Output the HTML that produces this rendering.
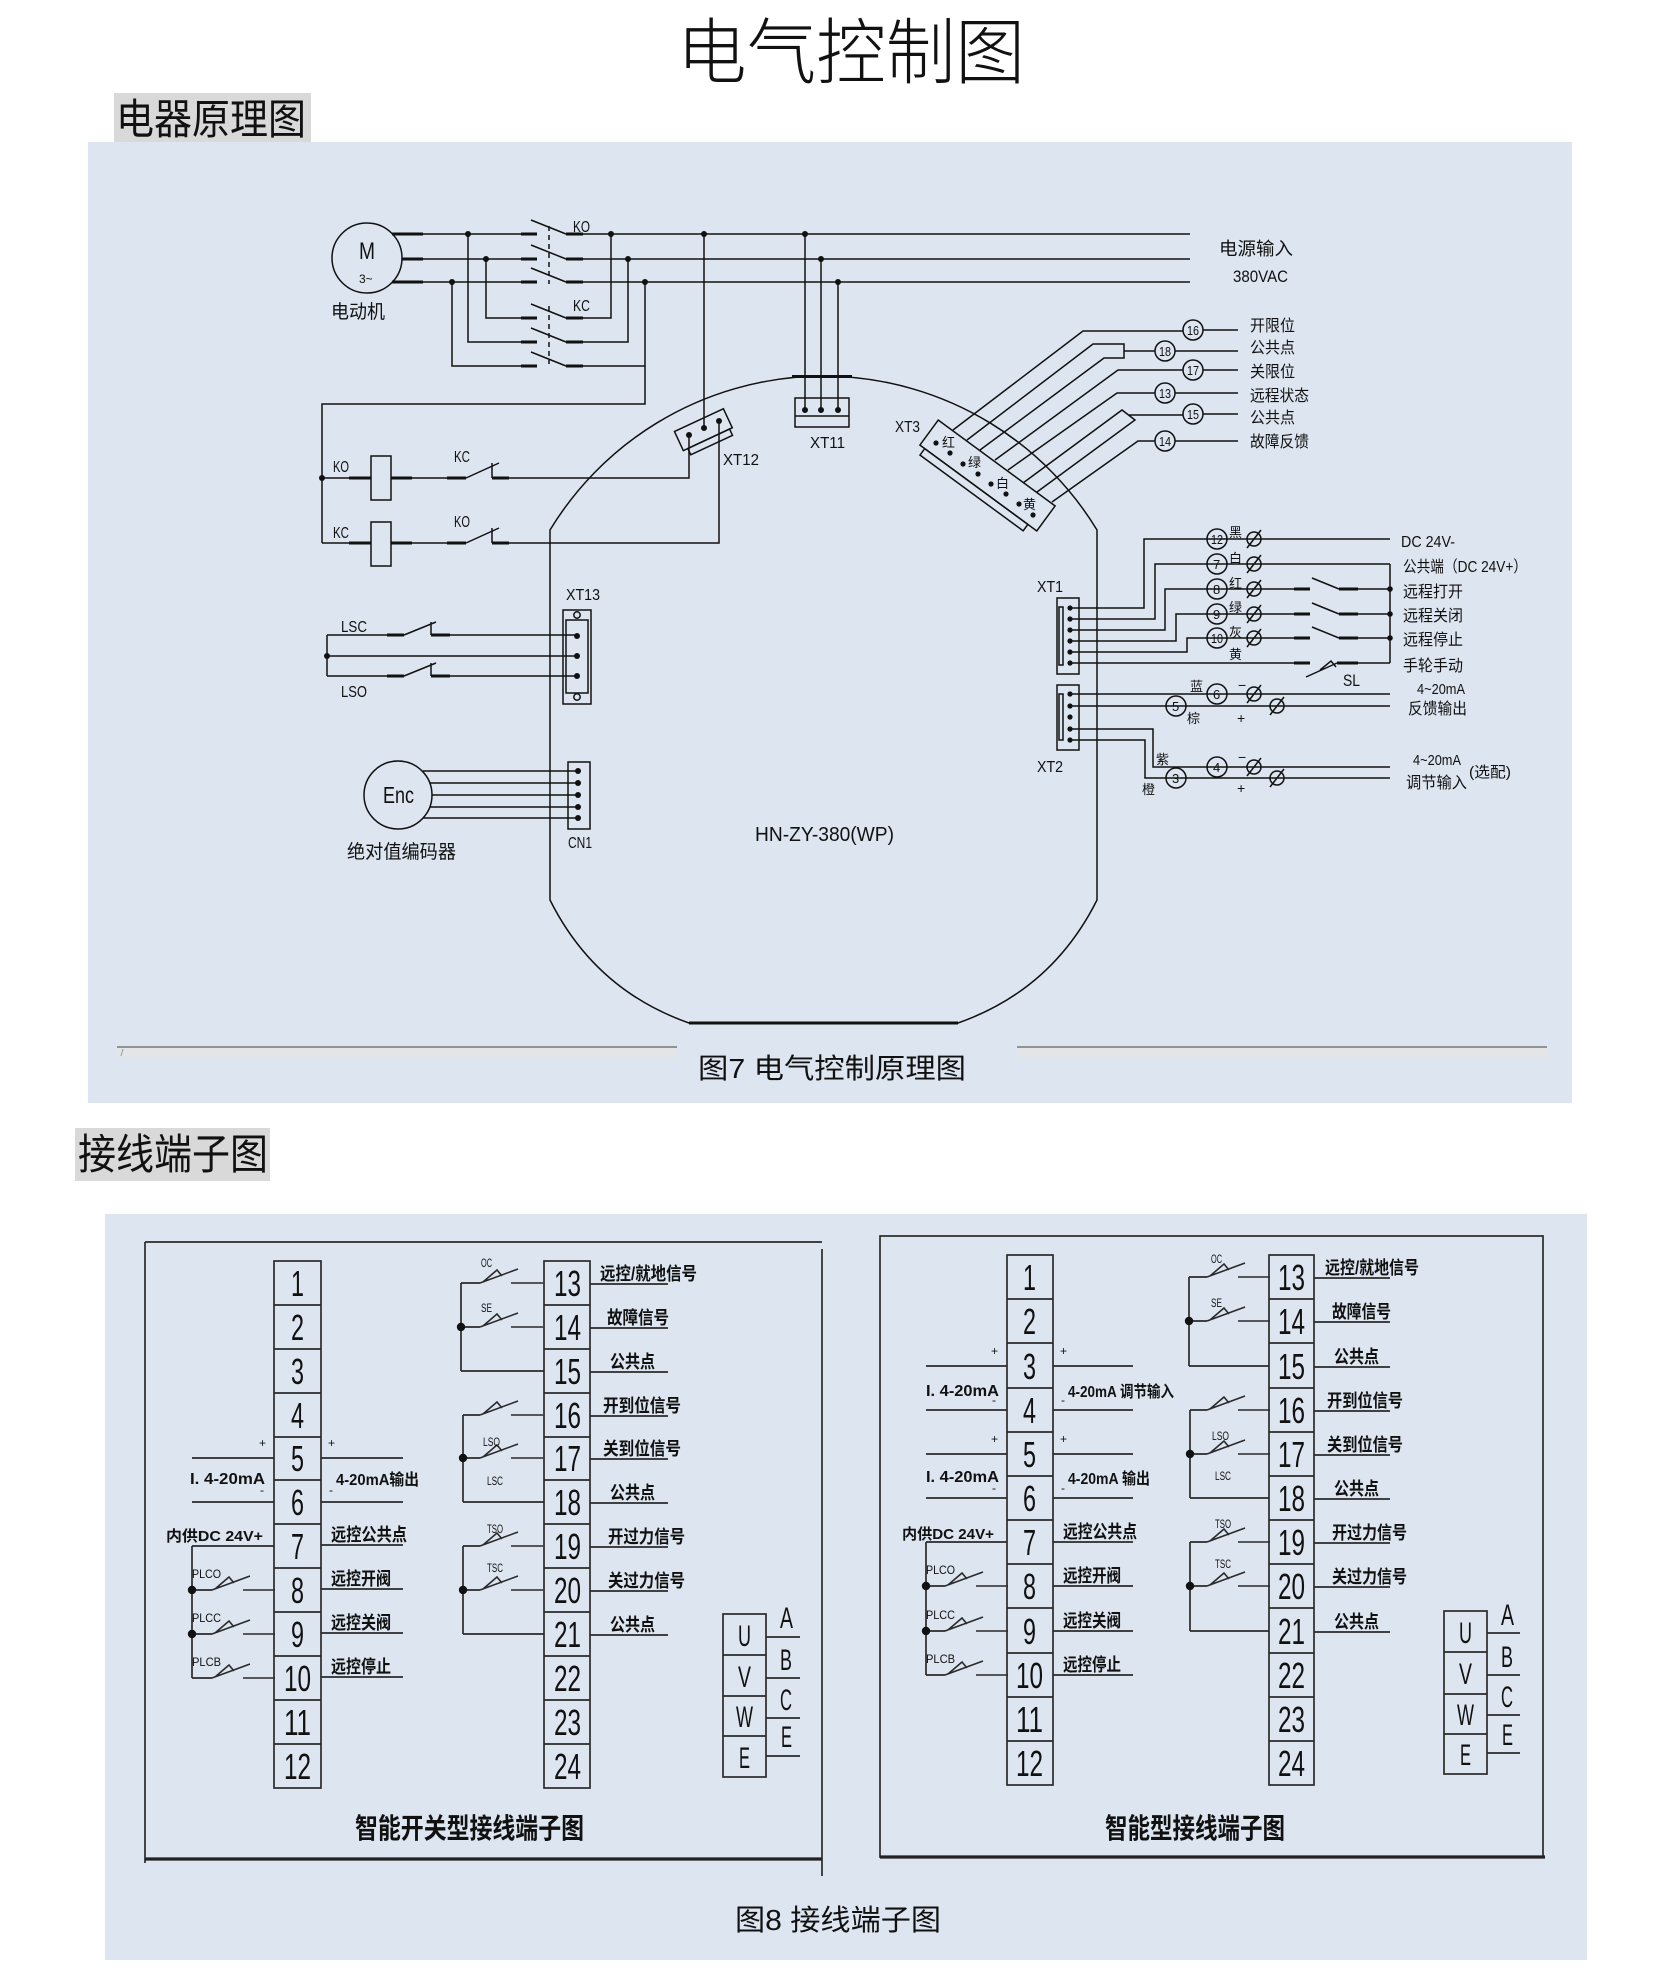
<!DOCTYPE html>
<html><head><meta charset="utf-8">
<style>
html,body{margin:0;padding:0;background:#fff;}
svg{display:block}
text{font-family:"Liberation Sans","Noto Sans CJK SC",sans-serif;fill:#111}
.s{stroke:#111;stroke-width:1.5;fill:none}
.k{stroke:#111;stroke-width:3;fill:none}
.t{stroke:#2a2a2a;stroke-width:1.7;fill:none}
.b{font-weight:bold}
</style></head><body>
<svg width="1654" height="1987" viewBox="0 0 1654 1987" xmlns="http://www.w3.org/2000/svg">
<defs>
<g id="sw"><path d="M0 0L38 -14M3 -1L17 -13L22 -7M31 0H63" stroke="#2a2a2a" stroke-width="1.6" fill="none"/></g>
</defs>
<rect width="1654" height="1987" fill="#fff"/>

<!-- Title -->
<text x="677" y="78" font-size="72" textLength="348" lengthAdjust="spacingAndGlyphs" style="font-weight:300">电气控制图</text>

<!-- Section 1 label -->
<rect x="114" y="93" width="197" height="53" fill="#d9d9d9"/>
<text x="116" y="134" font-size="42" textLength="190" lengthAdjust="spacingAndGlyphs">电器原理图</text>

<!-- Panel 1 -->
<rect x="88" y="142" width="1484" height="961" fill="#dce5f0"/>

<!-- ===== Motor & contactors ===== -->
<circle cx="367" cy="258" r="35" class="s" stroke-width="2"/>
<text x="359" y="259" font-size="24" textLength="16" lengthAdjust="spacingAndGlyphs">M</text>
<text x="359" y="283" font-size="12">3~</text>
<text x="331" y="318" font-size="19" textLength="54" lengthAdjust="spacingAndGlyphs">电动机</text>
<path class="k" d="M392 234H423M402 259H423M392 282H423"/>
<path class="s" d="M423 234H521M423 259H521M423 282H521"/>
<path class="k" d="M521 234H537M521 259H537M521 282H537M521 318H537M521 342H537M521 366H537"/>
<path class="k" d="M566 234H583M566 259H583M566 282H583M566 318H583M566 342H583M566 366H583"/>
<path class="s" d="M531 220L566 234M531 245L566 259M531 268L566 282M531 304L566 318M531 328L566 342M531 352L566 366"/>
<path class="s" stroke-dasharray="5,4" d="M549 226V284M549 306V364"/>
<text x="573" y="232" font-size="16" textLength="17" lengthAdjust="spacingAndGlyphs">KO</text>
<text x="573" y="311" font-size="16" textLength="17" lengthAdjust="spacingAndGlyphs">KC</text>
<path class="s" stroke-width="1.8" d="M583 234H1190M583 259H1190M583 282H1190"/>
<text x="1219" y="255" font-size="18" textLength="74" lengthAdjust="spacingAndGlyphs">电源输入</text>
<text x="1233" y="282" font-size="17" textLength="55" lengthAdjust="spacingAndGlyphs">380VAC</text>
<path class="s" d="M486 259V318H521M468 234V342H521M452 282V366H521M583 318H611V234M583 342H628V259M583 366H645M645 282V404H322V543"/>
<g fill="#111">
<circle cx="468" cy="234" r="3"/><circle cx="611" cy="234" r="3"/><circle cx="704" cy="234" r="3"/><circle cx="805" cy="234" r="3"/>
<circle cx="486" cy="259" r="3"/><circle cx="628" cy="259" r="3"/><circle cx="821" cy="259" r="3"/>
<circle cx="452" cy="282" r="3"/><circle cx="645" cy="282" r="3"/><circle cx="838" cy="282" r="3"/>
<circle cx="322" cy="478" r="3"/>
</g>
<path class="s" d="M322 478H349M412 478H447M322 543H349M412 543H447"/>
<path class="k" d="M349 478H371M391 478H412M447 478H466M492 478H509M349 543H371M391 543H412M447 543H466M492 543H509"/>
<rect x="371" y="456" width="20" height="44" class="s" stroke-width="2.2"/>
<rect x="371" y="522" width="20" height="44" class="s" stroke-width="2.2"/>
<path class="s" d="M466 478L499 463M492 463V478M466 543L499 528M492 528V543"/>
<path class="s" d="M509 478H689V435M509 543H719V421M704 234V428"/>
<text x="333" y="472" font-size="16" textLength="16" lengthAdjust="spacingAndGlyphs">KO</text>
<text x="454" y="462" font-size="16" textLength="16" lengthAdjust="spacingAndGlyphs">KC</text>
<text x="333" y="538" font-size="16" textLength="16" lengthAdjust="spacingAndGlyphs">KC</text>
<text x="454" y="527" font-size="16" textLength="16" lengthAdjust="spacingAndGlyphs">KO</text>
<g transform="rotate(-25 704 431)">
<rect x="677" y="419" width="54" height="21" class="s"/>
<rect x="682" y="440" width="46" height="7" class="s"/>
</g>
<g fill="#111"><circle cx="689" cy="435" r="3"/><circle cx="704" cy="428" r="3"/><circle cx="719" cy="421" r="3"/></g>
<text x="723" y="465" font-size="16" textLength="36" lengthAdjust="spacingAndGlyphs">XT12</text>
<rect x="795" y="398" width="54" height="29" class="s"/>
<path class="s" d="M795 416H849M805 234V410M821 259V410M838 282V410"/>
<g fill="#111"><circle cx="805" cy="410" r="3"/><circle cx="821" cy="410" r="3"/><circle cx="838" cy="410" r="3"/></g>
<text x="810" y="448" font-size="16" textLength="35" lengthAdjust="spacingAndGlyphs">XT11</text>

<!-- Enclosure -->
<path class="s" stroke-width="2" d="M550 530A320 320 0 0 1 1097 530V900Q1052 990 958 1023H689Q595 990 550 900Z"/>
<path class="k" d="M689 1023H958M792 376.5H852"/>

<!-- XT3 -->
<text x="895" y="432" font-size="16" textLength="25" lengthAdjust="spacingAndGlyphs">XT3</text>
<rect x="915" y="460" width="145" height="31" class="s" transform="rotate(36.3 987.5 475.5)"/>
<rect x="921" y="491" width="128" height="8" class="s" transform="rotate(36.3 987.5 475.5)"/>
<g fill="#111">
<circle cx="936" cy="443" r="2.6"/><circle cx="950" cy="453" r="2.6"/><circle cx="963" cy="464" r="2.6"/><circle cx="978" cy="474" r="2.6"/>
<circle cx="991" cy="484" r="2.6"/><circle cx="1006" cy="494" r="2.6"/><circle cx="1019" cy="504" r="2.6"/><circle cx="1033" cy="515" r="2.6"/>
</g>
<text x="942" y="447" font-size="13">红</text>
<text x="968" y="467" font-size="13">绿</text>
<text x="996" y="488" font-size="13">白</text>
<text x="1023" y="509" font-size="13">黄</text>
<path class="s" d="M953 430L1083 331H1183M967 440L1093 344H1124V358H1104L980 450M1124 351H1155M995 460L1118 370H1183M1008 470L1117 393H1155M1023 483L1122 410L1135 420L1037 492M1129 415H1183M1052 502L1138 441H1155"/>
<path class="s" d="M1203 330H1238M1175 351H1238M1203 370H1238M1175 393H1238M1203 414H1238M1175 441H1238"/>
<g class="s" fill="#dce5f0">
<circle cx="1193" cy="330" r="10"/><circle cx="1165" cy="351" r="10"/><circle cx="1193" cy="370" r="10"/>
<circle cx="1165" cy="393" r="10"/><circle cx="1193" cy="414" r="10"/><circle cx="1165" cy="441" r="10"/>
</g>
<g font-size="13">
<text x="1187" y="335" textLength="12" lengthAdjust="spacingAndGlyphs">16</text>
<text x="1159" y="356" textLength="12" lengthAdjust="spacingAndGlyphs">18</text>
<text x="1187" y="375" textLength="12" lengthAdjust="spacingAndGlyphs">17</text>
<text x="1159" y="398" textLength="12" lengthAdjust="spacingAndGlyphs">13</text>
<text x="1187" y="419" textLength="12" lengthAdjust="spacingAndGlyphs">15</text>
<text x="1159" y="446" textLength="12" lengthAdjust="spacingAndGlyphs">14</text>
</g>
<g font-size="16">
<text x="1250" y="331" textLength="45" lengthAdjust="spacingAndGlyphs">开限位</text>
<text x="1250" y="353" textLength="45" lengthAdjust="spacingAndGlyphs">公共点</text>
<text x="1250" y="377" textLength="45" lengthAdjust="spacingAndGlyphs">关限位</text>
<text x="1250" y="401" textLength="59" lengthAdjust="spacingAndGlyphs">远程状态</text>
<text x="1250" y="423" textLength="45" lengthAdjust="spacingAndGlyphs">公共点</text>
<text x="1250" y="447" textLength="59" lengthAdjust="spacingAndGlyphs">故障反馈</text>
</g>

<!-- XT1 / XT2 -->
<text x="1037" y="592" font-size="16" textLength="26" lengthAdjust="spacingAndGlyphs">XT1</text>
<rect x="1057" y="598" width="22" height="76" class="s"/>
<rect x="1059" y="607" width="4" height="58" class="s" stroke-width="1.2"/>
<text x="1037" y="772" font-size="16" textLength="26" lengthAdjust="spacingAndGlyphs">XT2</text>
<rect x="1057" y="685" width="22" height="65" class="s"/>
<rect x="1059" y="694" width="4" height="46" class="s" stroke-width="1.2"/>
<path class="s" d="M1070 608H1144V539H1390M1070 619H1155V564H1390M1390 564V663M1070 630H1165V589H1294M1358 589H1390M1070 641H1176V614H1294M1358 614H1390M1070 652H1187V638H1294M1358 638H1390M1070 663H1294M1358 663H1390"/>
<path class="k" d="M1294 589H1310M1339 589H1358M1294 614H1310M1339 614H1358M1294 638H1310M1339 638H1358M1294 663H1310M1337 663H1358"/>
<path class="s" d="M1312 578L1339 589M1312 603L1339 614M1312 627L1339 638M1306 677L1337 663M1320 670L1331 661L1336 667"/>
<path class="s" d="M1070 694H1390M1070 706H1390M1070 729H1153V767H1390M1070 740H1145V778H1390"/>
<g fill="#111">
<circle cx="1070" cy="608" r="2.6"/><circle cx="1070" cy="619" r="2.6"/><circle cx="1070" cy="630" r="2.6"/><circle cx="1070" cy="641" r="2.6"/><circle cx="1070" cy="652" r="2.6"/><circle cx="1070" cy="663" r="2.6"/>
<circle cx="1070" cy="694" r="2.6"/><circle cx="1070" cy="706" r="2.6"/><circle cx="1070" cy="717" r="2.6"/><circle cx="1070" cy="729" r="2.6"/><circle cx="1070" cy="740" r="2.6"/>
<circle cx="1390" cy="589" r="2.8"/><circle cx="1390" cy="614" r="2.8"/><circle cx="1390" cy="638" r="2.8"/>
</g>
<g class="s" fill="#dce5f0">
<circle cx="1217" cy="539" r="10"/><circle cx="1217" cy="564" r="10"/><circle cx="1217" cy="589" r="10"/><circle cx="1217" cy="614" r="10"/><circle cx="1217" cy="638" r="10"/>
<circle cx="1217" cy="694" r="10"/><circle cx="1176" cy="706" r="10"/><circle cx="1217" cy="767" r="10"/><circle cx="1176" cy="778" r="10"/>
<circle cx="1254" cy="539" r="7"/><circle cx="1254" cy="564" r="7"/><circle cx="1254" cy="589" r="7"/><circle cx="1254" cy="614" r="7"/><circle cx="1254" cy="638" r="7"/>
<circle cx="1254" cy="694" r="7"/><circle cx="1277" cy="706" r="7"/><circle cx="1254" cy="767" r="7"/><circle cx="1277" cy="778" r="7"/>
</g>
<path class="s" d="M1247 548L1261 530M1247 573L1261 555M1247 598L1261 580M1247 623L1261 605M1247 647L1261 629M1247 703L1261 685M1270 715L1284 697M1247 776L1261 758M1270 787L1284 769"/>
<g font-size="13">
<text x="1211" y="544" textLength="12" lengthAdjust="spacingAndGlyphs">12</text>
<text x="1213" y="569">7</text>
<text x="1213" y="594">8</text>
<text x="1213" y="619">9</text>
<text x="1211" y="643" textLength="12" lengthAdjust="spacingAndGlyphs">10</text>
<text x="1213" y="699">6</text>
<text x="1172" y="711">5</text>
<text x="1213" y="772">4</text>
<text x="1172" y="783">3</text>
</g>
<g font-size="13">
<text x="1229" y="537">黑</text>
<text x="1229" y="563">白</text>
<text x="1229" y="588">红</text>
<text x="1229" y="612">绿</text>
<text x="1229" y="637">灰</text>
<text x="1229" y="659">黄</text>
<text x="1190" y="691">蓝</text>
<text x="1187" y="723">棕</text>
<text x="1156" y="764">紫</text>
<text x="1142" y="794">橙</text>
</g>
<g font-size="14">
<text x="1238" y="690">−</text>
<text x="1237" y="723">+</text>
<text x="1238" y="762">−</text>
<text x="1237" y="793">+</text>
</g>
<text x="1343" y="686" font-size="17" textLength="17" lengthAdjust="spacingAndGlyphs">SL</text>
<g font-size="16">
<text x="1401" y="547" textLength="54" lengthAdjust="spacingAndGlyphs">DC 24V-</text>
<text x="1403" y="572" textLength="124" lengthAdjust="spacingAndGlyphs">公共端（DC 24V+）</text>
<text x="1403" y="597" textLength="60" lengthAdjust="spacingAndGlyphs">远程打开</text>
<text x="1403" y="621" textLength="60" lengthAdjust="spacingAndGlyphs">远程关闭</text>
<text x="1403" y="645" textLength="60" lengthAdjust="spacingAndGlyphs">远程停止</text>
<text x="1403" y="671" textLength="60" lengthAdjust="spacingAndGlyphs">手轮手动</text>
<text x="1417" y="694" font-size="15" textLength="48" lengthAdjust="spacingAndGlyphs">4~20mA</text>
<text x="1408" y="714" textLength="59" lengthAdjust="spacingAndGlyphs">反馈输出</text>
<text x="1413" y="765" font-size="15" textLength="48" lengthAdjust="spacingAndGlyphs">4~20mA</text>
<text x="1406" y="788" textLength="61" lengthAdjust="spacingAndGlyphs">调节输入</text>
<text x="1469" y="777" font-size="15" textLength="42" lengthAdjust="spacingAndGlyphs">(选配)</text>
</g>

<!-- LSC / LSO / XT13 -->
<text x="566" y="600" font-size="16" textLength="34" lengthAdjust="spacingAndGlyphs">XT13</text>
<rect x="563" y="610" width="28" height="94" class="s"/>
<rect x="566" y="620" width="22" height="73" class="s"/>
<circle cx="577" cy="615" r="3.2" class="s" stroke-width="1"/>
<circle cx="577" cy="697" r="3.2" class="s" stroke-width="1"/>
<path class="s" d="M327 635V676M327 635H387M450 635H577M327 656H577M327 676H387M450 676H577"/>
<path class="k" d="M387 635H404M431 635H450M387 676H404M431 676H450"/>
<path class="s" d="M404 635L436 622M431 622V635M404 676L436 663M431 663V676"/>
<g fill="#111"><circle cx="327" cy="656" r="3"/><circle cx="577" cy="636" r="3"/><circle cx="577" cy="656" r="3"/><circle cx="577" cy="676" r="3"/></g>
<text x="341" y="632" font-size="16" textLength="26" lengthAdjust="spacingAndGlyphs">LSC</text>
<text x="341" y="697" font-size="16" textLength="26" lengthAdjust="spacingAndGlyphs">LSO</text>

<!-- Encoder -->
<circle cx="398" cy="795" r="34" class="s"/>
<text x="383" y="803" font-size="23" textLength="31" lengthAdjust="spacingAndGlyphs">Enc</text>
<path class="s" d="M423 771H578M430 783H578M432 795H578M430 807H578M423 818H578"/>
<rect x="568" y="762" width="22" height="67" class="s"/>
<g fill="#111"><circle cx="578" cy="771" r="3"/><circle cx="578" cy="783" r="3"/><circle cx="578" cy="795" r="3"/><circle cx="578" cy="807" r="3"/><circle cx="578" cy="818" r="3"/></g>
<text x="568" y="848" font-size="16" textLength="24" lengthAdjust="spacingAndGlyphs">CN1</text>
<text x="347" y="858" font-size="19" textLength="109" lengthAdjust="spacingAndGlyphs">绝对值编码器</text>
<text x="755" y="841" font-size="20" textLength="139" lengthAdjust="spacingAndGlyphs" fill="#222">HN-ZY-380(WP)</text>

<!-- Caption 1 -->
<rect x="117" y="1047" width="560" height="10" fill="#e4e5e7"/>
<rect x="1017" y="1047" width="530" height="10" fill="#e4e5e7"/>
<path d="M117 1047H677M1017 1047H1547" stroke="#777" stroke-width="1.6"/>
<path d="M121 1056L123 1049" stroke="#999" stroke-width="1"/>
<text x="698" y="1078" font-size="28" textLength="268" lengthAdjust="spacingAndGlyphs" fill="#333">图7 电气控制原理图</text>

<!-- Section 2 label -->
<rect x="75" y="1128" width="195" height="53" fill="#d9d9d9"/>
<text x="78" y="1169" font-size="42" textLength="190" lengthAdjust="spacingAndGlyphs">接线端子图</text>

<!-- Panel 2 -->
<rect x="105" y="1214" width="1482" height="746" fill="#dce5f0"/>

<!-- ===== Left terminal frame ===== -->
<path class="t" d="M145 1242H822M145 1242V1863M822 1249V1876"/>
<path stroke="#222" stroke-width="3.2" d="M145 1859H822"/>
<rect x="274" y="1261" width="47" height="527" class="t"/>
<path class="t" d="M274 1305H321M274 1349H321M274 1393H321M274 1437H321M274 1480H321M274 1524H321M274 1568H321M274 1612H321M274 1656H321M274 1700H321M274 1744H321"/>
<rect x="544" y="1261" width="46" height="527" class="t"/>
<path class="t" d="M544 1305H590M544 1349H590M544 1393H590M544 1437H590M544 1480H590M544 1524H590M544 1568H590M544 1612H590M544 1656H590M544 1700H590M544 1744H590"/>
<g font-size="36" fill="#222">
<text x="291" y="1296" textLength="13" lengthAdjust="spacingAndGlyphs">1</text>
<text x="291" y="1340" textLength="13" lengthAdjust="spacingAndGlyphs">2</text>
<text x="291" y="1384" textLength="13" lengthAdjust="spacingAndGlyphs">3</text>
<text x="291" y="1428" textLength="13" lengthAdjust="spacingAndGlyphs">4</text>
<text x="291" y="1471" textLength="13" lengthAdjust="spacingAndGlyphs">5</text>
<text x="291" y="1515" textLength="13" lengthAdjust="spacingAndGlyphs">6</text>
<text x="291" y="1559" textLength="13" lengthAdjust="spacingAndGlyphs">7</text>
<text x="291" y="1603" textLength="13" lengthAdjust="spacingAndGlyphs">8</text>
<text x="291" y="1647" textLength="13" lengthAdjust="spacingAndGlyphs">9</text>
<text x="284" y="1691" textLength="27" lengthAdjust="spacingAndGlyphs">10</text>
<text x="284" y="1735" textLength="27" lengthAdjust="spacingAndGlyphs">11</text>
<text x="284" y="1779" textLength="27" lengthAdjust="spacingAndGlyphs">12</text>
<text x="554" y="1296" textLength="27" lengthAdjust="spacingAndGlyphs">13</text>
<text x="554" y="1340" textLength="27" lengthAdjust="spacingAndGlyphs">14</text>
<text x="554" y="1384" textLength="27" lengthAdjust="spacingAndGlyphs">15</text>
<text x="554" y="1428" textLength="27" lengthAdjust="spacingAndGlyphs">16</text>
<text x="554" y="1471" textLength="27" lengthAdjust="spacingAndGlyphs">17</text>
<text x="554" y="1515" textLength="27" lengthAdjust="spacingAndGlyphs">18</text>
<text x="554" y="1559" textLength="27" lengthAdjust="spacingAndGlyphs">19</text>
<text x="554" y="1603" textLength="27" lengthAdjust="spacingAndGlyphs">20</text>
<text x="554" y="1647" textLength="27" lengthAdjust="spacingAndGlyphs">21</text>
<text x="554" y="1691" textLength="27" lengthAdjust="spacingAndGlyphs">22</text>
<text x="554" y="1735" textLength="27" lengthAdjust="spacingAndGlyphs">23</text>
<text x="554" y="1779" textLength="27" lengthAdjust="spacingAndGlyphs">24</text>
</g>
<path class="t" d="M192 1458H274M192 1502H274M321 1458H403M321 1502H403M192 1546H274M192 1546V1678M192 1590H212M192 1634H212M192 1678H212"/>
<use href="#sw" x="212" y="1590"/><use href="#sw" x="212" y="1634"/><use href="#sw" x="212" y="1678"/>
<g fill="#111"><circle cx="192" cy="1590" r="4.2"/><circle cx="192" cy="1634" r="4.2"/></g>
<g font-size="12">
<text x="259" y="1447">+</text><text x="260" y="1494">-</text>
<text x="328" y="1447">+</text><text x="329" y="1494">-</text>
<text x="192" y="1578" textLength="29" lengthAdjust="spacingAndGlyphs">PLCO</text>
<text x="192" y="1622" textLength="29" lengthAdjust="spacingAndGlyphs">PLCC</text>
<text x="192" y="1666" textLength="29" lengthAdjust="spacingAndGlyphs">PLCB</text>
</g>
<g font-size="16" class="b">
<text x="190" y="1484" textLength="75" lengthAdjust="spacingAndGlyphs">I. 4-20mA</text>
<text x="336" y="1485" textLength="83" lengthAdjust="spacingAndGlyphs">4-20mA输出</text>
<text x="166" y="1541" font-size="15" textLength="97" lengthAdjust="spacingAndGlyphs">内供DC 24V+</text>
</g>
<path class="t" d="M321 1545H403M321 1589H403M321 1633H403M321 1677H403"/>
<g font-size="18" class="b">
<text x="331" y="1541" textLength="76" lengthAdjust="spacingAndGlyphs">远控公共点</text>
<text x="331" y="1585" textLength="60" lengthAdjust="spacingAndGlyphs">远控开阀</text>
<text x="331" y="1629" textLength="60" lengthAdjust="spacingAndGlyphs">远控关阀</text>
<text x="331" y="1673" textLength="60" lengthAdjust="spacingAndGlyphs">远控停止</text>
</g>
<path class="t" d="M590 1284H668M590 1328H668M590 1372H668M590 1416H668M590 1459H668M590 1503H668M590 1547H668M590 1591H668M590 1635H668"/>
<g font-size="18" class="b">
<text x="600" y="1280" textLength="97" lengthAdjust="spacingAndGlyphs">远控/就地信号</text>
<text x="607" y="1324" textLength="62" lengthAdjust="spacingAndGlyphs">故障信号</text>
<text x="610" y="1368" textLength="45" lengthAdjust="spacingAndGlyphs">公共点</text>
<text x="603" y="1412" textLength="78" lengthAdjust="spacingAndGlyphs">开到位信号</text>
<text x="603" y="1455" textLength="78" lengthAdjust="spacingAndGlyphs">关到位信号</text>
<text x="610" y="1499" textLength="45" lengthAdjust="spacingAndGlyphs">公共点</text>
<text x="608" y="1543" textLength="77" lengthAdjust="spacingAndGlyphs">开过力信号</text>
<text x="608" y="1587" textLength="77" lengthAdjust="spacingAndGlyphs">关过力信号</text>
<text x="610" y="1631" textLength="45" lengthAdjust="spacingAndGlyphs">公共点</text>
</g>
<path class="t" d="M461 1283V1371M461 1283H480M461 1327H480M461 1371H544M463 1415V1502M463 1415H480M463 1458H480M463 1502H544M463 1546V1634M463 1546H480M463 1590H480M463 1634H544"/>
<use href="#sw" x="480" y="1283"/><use href="#sw" x="480" y="1327"/>
<use href="#sw" x="480" y="1415"/><use href="#sw" x="480" y="1458"/>
<use href="#sw" x="480" y="1546"/><use href="#sw" x="480" y="1590"/>
<g fill="#111"><circle cx="461" cy="1327" r="4.2"/><circle cx="463" cy="1458" r="4.2"/><circle cx="463" cy="1590" r="4.2"/></g>
<g font-size="12">
<text x="481" y="1267" textLength="11" lengthAdjust="spacingAndGlyphs">OC</text>
<text x="481" y="1312" textLength="11" lengthAdjust="spacingAndGlyphs">SE</text>
<text x="483" y="1446" textLength="17" lengthAdjust="spacingAndGlyphs">LSO</text>
<text x="487" y="1485" textLength="16" lengthAdjust="spacingAndGlyphs">LSC</text>
<text x="487" y="1533" textLength="16" lengthAdjust="spacingAndGlyphs">TSO</text>
<text x="487" y="1572" textLength="16" lengthAdjust="spacingAndGlyphs">TSC</text>
</g>
<rect x="723" y="1614" width="43" height="163" class="t"/>
<path class="t" d="M723 1655H766M723 1696H766M723 1736H766M766 1637H800M766 1678H800M766 1718H800M766 1756H800"/>
<g font-size="30" fill="#222">
<text x="738" y="1646" textLength="13" lengthAdjust="spacingAndGlyphs">U</text>
<text x="738" y="1687" textLength="13" lengthAdjust="spacingAndGlyphs">V</text>
<text x="736" y="1727" textLength="17" lengthAdjust="spacingAndGlyphs">W</text>
<text x="739" y="1768" textLength="11" lengthAdjust="spacingAndGlyphs">E</text>
<text x="780" y="1628" textLength="13" lengthAdjust="spacingAndGlyphs">A</text>
<text x="780" y="1670" textLength="12" lengthAdjust="spacingAndGlyphs">B</text>
<text x="780" y="1710" textLength="12" lengthAdjust="spacingAndGlyphs">C</text>
<text x="781" y="1747" textLength="11" lengthAdjust="spacingAndGlyphs">E</text>
</g>
<text x="355" y="1838" font-size="28" class="b" textLength="229" lengthAdjust="spacingAndGlyphs" fill="#222">智能开关型接线端子图</text>

<!-- ===== Right terminal frame ===== -->
<rect x="880" y="1236" width="663" height="621" class="t"/>
<path stroke="#222" stroke-width="3.2" d="M880 1857H1545"/>
<rect x="1007" y="1255" width="46" height="530" class="t"/>
<path class="t" d="M1007 1299H1053M1007 1343H1053M1007 1388H1053M1007 1432H1053M1007 1476H1053M1007 1520H1053M1007 1564H1053M1007 1608H1053M1007 1653H1053M1007 1697H1053M1007 1741H1053"/>
<rect x="1269" y="1255" width="45" height="530" class="t"/>
<path class="t" d="M1269 1299H1314M1269 1343H1314M1269 1388H1314M1269 1432H1314M1269 1476H1314M1269 1520H1314M1269 1564H1314M1269 1608H1314M1269 1653H1314M1269 1697H1314M1269 1741H1314"/>
<g font-size="36" fill="#222">
<text x="1023" y="1290" textLength="13" lengthAdjust="spacingAndGlyphs">1</text>
<text x="1023" y="1334" textLength="13" lengthAdjust="spacingAndGlyphs">2</text>
<text x="1023" y="1379" textLength="13" lengthAdjust="spacingAndGlyphs">3</text>
<text x="1023" y="1423" textLength="13" lengthAdjust="spacingAndGlyphs">4</text>
<text x="1023" y="1467" textLength="13" lengthAdjust="spacingAndGlyphs">5</text>
<text x="1023" y="1511" textLength="13" lengthAdjust="spacingAndGlyphs">6</text>
<text x="1023" y="1555" textLength="13" lengthAdjust="spacingAndGlyphs">7</text>
<text x="1023" y="1599" textLength="13" lengthAdjust="spacingAndGlyphs">8</text>
<text x="1023" y="1644" textLength="13" lengthAdjust="spacingAndGlyphs">9</text>
<text x="1016" y="1688" textLength="27" lengthAdjust="spacingAndGlyphs">10</text>
<text x="1016" y="1732" textLength="27" lengthAdjust="spacingAndGlyphs">11</text>
<text x="1016" y="1776" textLength="27" lengthAdjust="spacingAndGlyphs">12</text>
<text x="1278" y="1290" textLength="27" lengthAdjust="spacingAndGlyphs">13</text>
<text x="1278" y="1334" textLength="27" lengthAdjust="spacingAndGlyphs">14</text>
<text x="1278" y="1379" textLength="27" lengthAdjust="spacingAndGlyphs">15</text>
<text x="1278" y="1423" textLength="27" lengthAdjust="spacingAndGlyphs">16</text>
<text x="1278" y="1467" textLength="27" lengthAdjust="spacingAndGlyphs">17</text>
<text x="1278" y="1511" textLength="27" lengthAdjust="spacingAndGlyphs">18</text>
<text x="1278" y="1555" textLength="27" lengthAdjust="spacingAndGlyphs">19</text>
<text x="1278" y="1599" textLength="27" lengthAdjust="spacingAndGlyphs">20</text>
<text x="1278" y="1644" textLength="27" lengthAdjust="spacingAndGlyphs">21</text>
<text x="1278" y="1688" textLength="27" lengthAdjust="spacingAndGlyphs">22</text>
<text x="1278" y="1732" textLength="27" lengthAdjust="spacingAndGlyphs">23</text>
<text x="1278" y="1776" textLength="27" lengthAdjust="spacingAndGlyphs">24</text>
</g>
<path class="t" d="M926 1366H1007M926 1410H1007M926 1454H1007M926 1498H1007M1053 1366H1133M1053 1410H1133M1053 1454H1133M1053 1498H1133"/>
<path class="t" d="M926 1542H1007M926 1542V1675M926 1586H945M926 1631H945M926 1675H945"/>
<use href="#sw" x="945" y="1586"/><use href="#sw" x="945" y="1631"/><use href="#sw" x="945" y="1675"/>
<g fill="#111"><circle cx="926" cy="1586" r="4.2"/><circle cx="926" cy="1631" r="4.2"/></g>
<g font-size="12">
<text x="991" y="1355">+</text><text x="992" y="1404">-</text>
<text x="991" y="1443">+</text><text x="992" y="1492">-</text>
<text x="1060" y="1355">+</text><text x="1061" y="1404">-</text>
<text x="1060" y="1443">+</text><text x="1061" y="1492">-</text>
<text x="926" y="1574" textLength="29" lengthAdjust="spacingAndGlyphs">PLCO</text>
<text x="926" y="1619" textLength="29" lengthAdjust="spacingAndGlyphs">PLCC</text>
<text x="926" y="1663" textLength="29" lengthAdjust="spacingAndGlyphs">PLCB</text>
</g>
<g font-size="16" class="b">
<text x="926" y="1396" textLength="73" lengthAdjust="spacingAndGlyphs">I. 4-20mA</text>
<text x="1068" y="1397" textLength="106" lengthAdjust="spacingAndGlyphs">4-20mA 调节输入</text>
<text x="926" y="1482" textLength="73" lengthAdjust="spacingAndGlyphs">I. 4-20mA</text>
<text x="1068" y="1484" textLength="82" lengthAdjust="spacingAndGlyphs">4-20mA 输出</text>
<text x="902" y="1539" font-size="15" textLength="92" lengthAdjust="spacingAndGlyphs">内供DC 24V+</text>
</g>
<path class="t" d="M1053 1542H1133M1053 1586H1133M1053 1631H1133M1053 1675H1133"/>
<g font-size="18" class="b">
<text x="1063" y="1538" textLength="74" lengthAdjust="spacingAndGlyphs">远控公共点</text>
<text x="1063" y="1582" textLength="58" lengthAdjust="spacingAndGlyphs">远控开阀</text>
<text x="1063" y="1627" textLength="58" lengthAdjust="spacingAndGlyphs">远控关阀</text>
<text x="1063" y="1671" textLength="58" lengthAdjust="spacingAndGlyphs">远控停止</text>
</g>
<path class="t" d="M1314 1278H1390M1314 1322H1390M1314 1367H1390M1314 1411H1390M1314 1455H1390M1314 1499H1390M1314 1543H1390M1314 1587H1390M1314 1632H1390"/>
<g font-size="18" class="b">
<text x="1325" y="1274" textLength="94" lengthAdjust="spacingAndGlyphs">远控/就地信号</text>
<text x="1332" y="1318" textLength="59" lengthAdjust="spacingAndGlyphs">故障信号</text>
<text x="1334" y="1363" textLength="45" lengthAdjust="spacingAndGlyphs">公共点</text>
<text x="1327" y="1407" textLength="76" lengthAdjust="spacingAndGlyphs">开到位信号</text>
<text x="1327" y="1451" textLength="76" lengthAdjust="spacingAndGlyphs">关到位信号</text>
<text x="1334" y="1495" textLength="45" lengthAdjust="spacingAndGlyphs">公共点</text>
<text x="1332" y="1539" textLength="75" lengthAdjust="spacingAndGlyphs">开过力信号</text>
<text x="1332" y="1583" textLength="75" lengthAdjust="spacingAndGlyphs">关过力信号</text>
<text x="1334" y="1628" textLength="45" lengthAdjust="spacingAndGlyphs">公共点</text>
</g>
<path class="t" d="M1189 1277V1366M1189 1277H1207M1189 1321H1207M1189 1366H1269M1190 1410V1498M1190 1410H1207M1190 1454H1207M1190 1498H1269M1190 1542V1631M1190 1542H1207M1190 1586H1207M1190 1631H1269"/>
<use href="#sw" x="1207" y="1277"/><use href="#sw" x="1207" y="1321"/>
<use href="#sw" x="1207" y="1410"/><use href="#sw" x="1207" y="1454"/>
<use href="#sw" x="1207" y="1542"/><use href="#sw" x="1207" y="1586"/>
<g fill="#111"><circle cx="1189" cy="1321" r="4.2"/><circle cx="1190" cy="1454" r="4.2"/><circle cx="1190" cy="1586" r="4.2"/></g>
<g font-size="12">
<text x="1211" y="1263" textLength="11" lengthAdjust="spacingAndGlyphs">OC</text>
<text x="1211" y="1307" textLength="11" lengthAdjust="spacingAndGlyphs">SE</text>
<text x="1212" y="1440" textLength="17" lengthAdjust="spacingAndGlyphs">LSO</text>
<text x="1215" y="1480" textLength="16" lengthAdjust="spacingAndGlyphs">LSC</text>
<text x="1215" y="1528" textLength="16" lengthAdjust="spacingAndGlyphs">TSO</text>
<text x="1215" y="1568" textLength="16" lengthAdjust="spacingAndGlyphs">TSC</text>
</g>
<rect x="1444" y="1611" width="43" height="163" class="t"/>
<path class="t" d="M1444 1652H1487M1444 1694H1487M1444 1734H1487M1487 1633H1520M1487 1675H1520M1487 1715H1520M1487 1753H1520"/>
<g font-size="30" fill="#222">
<text x="1459" y="1643" textLength="13" lengthAdjust="spacingAndGlyphs">U</text>
<text x="1459" y="1684" textLength="13" lengthAdjust="spacingAndGlyphs">V</text>
<text x="1457" y="1725" textLength="17" lengthAdjust="spacingAndGlyphs">W</text>
<text x="1460" y="1765" textLength="11" lengthAdjust="spacingAndGlyphs">E</text>
<text x="1501" y="1625" textLength="13" lengthAdjust="spacingAndGlyphs">A</text>
<text x="1501" y="1667" textLength="12" lengthAdjust="spacingAndGlyphs">B</text>
<text x="1501" y="1707" textLength="12" lengthAdjust="spacingAndGlyphs">C</text>
<text x="1502" y="1745" textLength="11" lengthAdjust="spacingAndGlyphs">E</text>
</g>
<text x="1105" y="1838" font-size="28" class="b" textLength="180" lengthAdjust="spacingAndGlyphs" fill="#222">智能型接线端子图</text>

<!-- Caption 2 -->
<text x="735" y="1930" font-size="29" textLength="206" lengthAdjust="spacingAndGlyphs" fill="#333">图8 接线端子图</text>
</svg>
</body></html>
